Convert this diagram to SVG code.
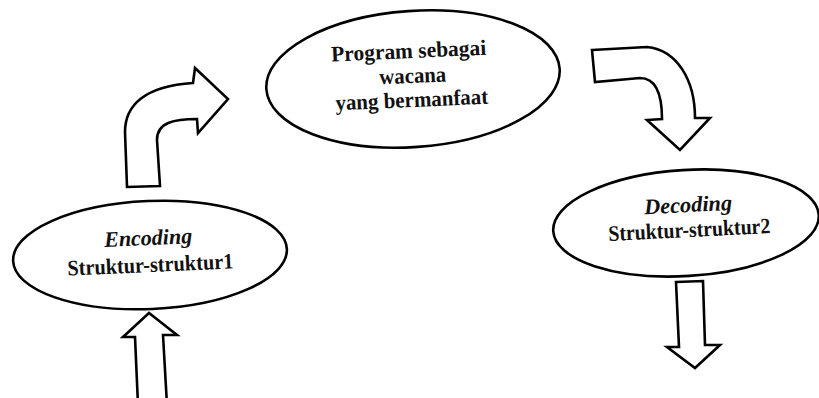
<svg xmlns="http://www.w3.org/2000/svg" width="819" height="398" viewBox="0 0 819 398">
<style>
.shape{fill:#fff;stroke:#000;stroke-width:2.6;stroke-linejoin:round}
.arrow{fill:#fff;stroke:#000;stroke-width:2.6;stroke-linejoin:miter}
</style>
<rect width="819" height="398" fill="#fff"/>
<g id="connectors">
<path class="arrow" d="M127,187 L125,132 C125,105 145,86 193,83 L195,68 L228,99 L198,133 L197,119 C175,119 157,122 157,140 L160,186 Z"/>
<path class="arrow" d="M592,50 L647,47 C677,50 695,80 695,118 L710,118 L680,150 L647,120 L662,119 C662,98 658,78 640,78 L595,82 Z"/>
<path class="arrow" d="M138,405 L135,337 L123,337 L149,313 L177,335 L163,335 L167,405"/>
<path class="arrow" d="M676,282 L703,281 L705,345 L720,345 L695,368 L667,347 L679,347 Z"/>
</g>
<g font-family="Liberation Serif, DejaVu Serif, serif" font-size="22" font-weight="bold" fill="#111" text-anchor="middle">
<g id="node-program">
<ellipse class="shape" cx="413" cy="79" rx="147" ry="68" transform="rotate(-4 413 79)"/>
<g transform="rotate(-2.5 411 82)">
<text x="410" y="58" textLength="155" lengthAdjust="spacingAndGlyphs">Program sebagai</text>
<text x="413" y="83" textLength="67" lengthAdjust="spacingAndGlyphs">wacana</text>
<text x="411" y="107" textLength="153" lengthAdjust="spacingAndGlyphs">yang bermanfaat</text>
</g>
</g>
<g id="node-encoding">
<ellipse class="shape" cx="150" cy="255" rx="137" ry="54" transform="rotate(-2.5 150 255)"/>
<g transform="rotate(-2.5 150 258)">
<text font-style="italic" x="149" y="245" textLength="88" lengthAdjust="spacingAndGlyphs">Encoding</text>
<text x="150" y="272" textLength="166" lengthAdjust="spacingAndGlyphs">Struktur-struktur1</text>
</g>
</g>
<g id="node-decoding">
<ellipse class="shape" cx="686" cy="223" rx="133" ry="53" transform="rotate(-3.5 686 223)"/>
<g transform="rotate(-2.8 689 224)">
<text font-style="italic" x="689" y="212" textLength="88" lengthAdjust="spacingAndGlyphs">Decoding</text>
<text x="689" y="237" textLength="162" lengthAdjust="spacingAndGlyphs">Struktur-struktur2</text>
</g>
</g>
</g>
</svg>
